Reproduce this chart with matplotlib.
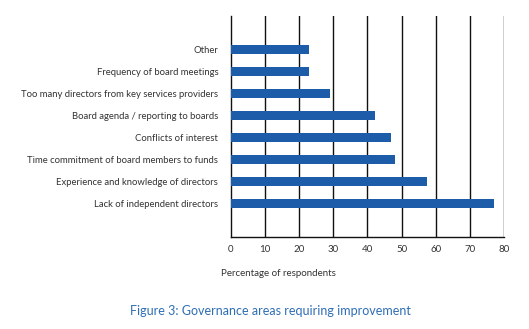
import numpy as np
import matplotlib.pyplot as plt

plt.rcParams['font.family'] = ['Lato', 'DejaVu Sans']

categories = ['Lack of independent directors',
              'Experience and knowledge of directors',
              'Time commitment of board members to funds',
              'Conflicts of interest',
              'Board agenda / reporting to boards',
              'Too many directors from key services providers',
              'Frequency of board meetings',
              'Other']
values = [77, 57.3, 48.2, 47, 42.1, 29.1, 23, 23]
xticks = [0, 10, 20, 30, 40, 50, 60, 70, 80]

fig = plt.figure(figsize=(5.29, 3.29), dpi=100)
ax = fig.add_axes([0.436, 0.2796, 0.517, 0.6714])

y = np.arange(len(categories))
ax.barh(y, values, height=0.42, color='#1d5ca8', zorder=3)

# vertical lines every 10
for t in xticks[1:]:
    ax.axvline(t, color='#111111', lw=1.0, zorder=2)

ax.set_xlim(0, 80)
ax.set_ylim(-1.52, 8.52)
ax.set_yticks(y)
ax.set_yticklabels(categories, fontsize=6.8, color='#333333')
ax.set_xticks(xticks)
ax.set_xticklabels([str(t) for t in xticks], fontsize=7, color='#333333')
ax.tick_params(length=0)
ax.tick_params(axis='x', pad=6)
ax.tick_params(axis='y', pad=9)

for s in ['top', 'right']:
    ax.spines[s].set_visible(False)
for s in ['left', 'bottom']:
    ax.spines[s].set_color('#111111')
    ax.spines[s].set_linewidth(1.0)

fig.text(221 / 529, 1 - 273 / 329, 'Percentage of respondents', fontsize=7,
         color='#333333', va='center', ha='left')
fig.text(270 / 529, 1 - 311 / 329, 'Figure 3: Governance areas requiring improvement',
         fontsize=9, color='#2e6db4', va='center', ha='center')

fig.savefig('out.png', dpi=100)
